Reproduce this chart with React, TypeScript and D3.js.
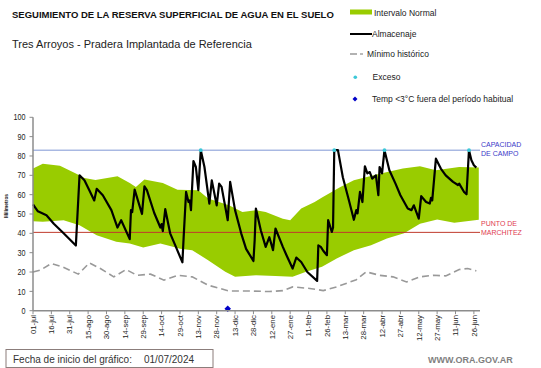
import * as d3 from "d3";

// eje x: un tick cada 15 días desde 01-jul-2024
const tickLabels = [
  "01-jul", "16-jul", "31-jul", "15-ago", "30-ago", "14-sep", "29-sep", "14-oct",
  "29-oct", "13-nov", "28-nov", "13-dic", "28-dic", "12-ene", "27-ene", "11-feb",
  "26-feb", "13-mar", "28-mar", "12-abr", "27-abr", "12-may", "27-may", "11-jun", "26-jun"
];
const yTicks = [0, 10, 20, 30, 40, 50, 60, 70, 80, 90, 100];

// [día desde el inicio, mm]
const normalUpper: [number, number][] = [
  [0, 73.5], [8, 76], [22, 75], [35, 70.9], [42, 68.6], [51, 67.6], [69, 69.5], [79, 66],
  [84, 64], [91, 67.8], [106, 66], [118, 62.6], [135, 62.3], [143, 58], [160, 54.5],
  [171, 51], [182, 52], [190, 51], [204, 47.6], [210, 46.8], [219, 52.8], [230, 56.2],
  [236, 58.5], [251, 64], [262, 67.4], [284, 71], [302, 73.5], [316, 74.7], [329, 72.6],
  [348, 74.3], [364, 74]
];
const normalLower: [number, number][] = [
  [0, 46.3], [8, 46], [25, 46.8], [38, 44.2], [52, 39], [68, 35.6], [79, 34.7], [90, 32.7],
  [104, 34.7], [115, 33], [120, 32], [130, 31.3], [143, 26.1], [157, 20.1], [165, 17.5],
  [182, 18.3], [198, 18], [212, 17.5], [223, 20.1], [236, 22.7], [248, 27], [262, 31.3],
  [276, 33.8], [289, 37.3], [303, 40], [316, 45], [330, 47.1], [344, 45.5], [364, 47]
];
const storage: [number, number][] = [
  [0, 55], [4, 51.4], [11, 49.4], [17, 45], [25, 40], [35, 33.7], [38, 70], [42, 67.4],
  [46, 62.3], [50, 57], [52, 63], [57, 59.7], [64, 52], [69, 43], [72, 46.8], [79, 37],
  [80, 52], [81, 51], [83, 62.6], [89, 50], [91, 64.3], [93, 62.3], [99, 50.5], [104, 43],
  [105, 44.8], [106, 41.2], [108, 52.5], [112, 40], [116, 34], [122, 25], [123, 37.8],
  [125, 61.4], [127, 56.2], [128, 57], [129, 52], [131, 77.4], [133, 74.3], [135, 62.3],
  [137, 83], [140, 74.3], [144, 55.4], [146, 67.4], [150, 54.5], [152, 65.7], [154, 64],
  [159, 46.8], [161, 66.6], [165, 52], [170, 40], [174, 32], [180, 25.7], [181, 36.4],
  [182, 52.8], [186, 41.6], [190, 33], [193, 38], [196, 31.3], [198, 42.5], [204, 33],
  [207, 28.7], [212, 21.8], [215, 27.5], [219, 25.2], [224, 20], [232, 15.4], [233, 33.8],
  [235, 33], [237, 31], [240, 28.7], [241, 46.8], [244, 40.7], [245, 43], [246, 83],
  [249, 83], [253, 69], [258, 57], [262, 47], [264, 52], [265, 50.3], [267, 61.4],
  [269, 56.2], [271, 74.7], [273, 71], [275, 71.7], [277, 68.3], [280, 70], [282, 59.7],
  [283, 74.3], [285, 71], [287, 83], [291, 72.6], [296, 65.7], [300, 59.7], [306, 52.8],
  [309, 52], [311, 54.5], [315, 47.6], [317, 59.2], [321, 56.2], [324, 55.4], [325, 58.4],
  [326, 57], [329, 78.6], [333, 73.5], [337, 70], [343, 66.6], [347, 65], [348, 65.7],
  [352, 61.4], [354, 60.2], [356, 83], [358, 77.8], [360, 75.2], [362, 74]
];
const historicMin: [number, number][] = [
  [0, 20], [6, 21], [15, 24.4], [24, 22.7], [37, 18.9], [46, 24.7], [55, 21.8], [66, 17.5],
  [76, 21.3], [85, 18.3], [96, 18.9], [107, 15.8], [118, 18.3], [130, 17.5], [143, 13.2],
  [160, 10.2], [176, 10.2], [193, 9.9], [204, 10.4], [212, 12.3], [226, 11.5], [237, 10.4],
  [248, 12.3], [259, 14.9], [264, 16], [272, 20.1], [283, 18.3], [294, 17.5], [305, 14.9],
  [316, 17.5], [327, 18.3], [337, 18], [348, 21.3], [355, 21.8], [362, 20.6]
];
const excess: [number, number][] = [[137, 83], [246, 83], [287, 83], [356, 83]];
const coldTemp: [number, number][] = [[159, 1]];
const fieldCapacity = 83;
const wiltingPoint = 40.5;

const FONT = "'Liberation Sans', Arial, Helvetica, sans-serif";

export default function App() {
  const x = d3.scaleLinear().domain([0, 365]).range([33, 480]);
  const y = d3.scaleLinear().domain([0, 100]).range([310.7, 117.3]);
  const line = d3.line<[number, number]>().x(d => x(d[0])).y(d => y(d[1]));
  const band = line([...normalUpper, ...normalLower.slice().reverse()]) + "Z";
  const axisColor = "#8c8c8c";

  return (
    <svg width={541} height={368} style={{ position: "absolute", left: 0, top: 0 }} fontFamily={FONT}>
      <rect width={541} height={368} fill="#fff" />

      {/* títulos */}
      <text x={12} y={17.5} fontSize={9.5} fontWeight="bold" fill="#111">
        SEGUIMIENTO DE LA RESERVA  SUPERFICIAL DE AGUA EN EL SUELO
      </text>
      <text x={12} y={48} fontSize={11} fill="#222">
        Tres Arroyos - Pradera Implantada  de Referencia
      </text>

      {/* leyenda */}
      <g fontSize={8.5} fill="#222">
        <rect x={350} y={9.5} width={22} height={5} fill="#99cc00" />
        <text x={374} y={15.5}>Intervalo Normal</text>
        <line x1={350} x2={372} y1={34} y2={34} stroke="#000" strokeWidth={2} />
        <text x={372} y={37}>Almacenaje</text>
        <line x1={350} x2={357} y1={54} y2={54} stroke="#999" strokeWidth={1.5} />
        <line x1={360} x2={363} y1={54} y2={54} stroke="#777" strokeWidth={1} />
        <text x={367} y={57}>Mínimo histórico</text>
        <circle cx={355.3} cy={77.3} r={1.8} fill="#3cc8d8" />
        <text x={372.5} y={80}>Exceso</text>
        <path d="M355,96.5 L357.5,99 L355,101.5 L352.5,99 Z" fill="#0000c8" />
        <text x={372} y={102}>Temp &lt;3°C fuera del período habitual</text>
      </g>

      {/* intervalo normal */}
      <path d={band} fill="#99cc00" />

      {/* mínimo histórico */}
      <path d={line(historicMin) ?? ""} fill="none" stroke="#999" strokeWidth={1.6} strokeDasharray="7,4" />

      {/* capacidad de campo y punto de marchitez */}
      <line x1={x(0)} x2={x(365)} y1={y(fieldCapacity)} y2={y(fieldCapacity)} stroke="#7f96d4" strokeWidth={1} />
      <line x1={x(0)} x2={x(365)} y1={y(wiltingPoint)} y2={y(wiltingPoint)} stroke="#c0392b" strokeWidth={1} />

      {/* almacenaje */}
      <path d={line(storage) ?? ""} fill="none" stroke="#000" strokeWidth={2.2} strokeLinejoin="round" />

      {excess.map((d, i) => (
        <circle key={i} cx={x(d[0])} cy={y(d[1])} r={1.9} fill="#3cc8d8" />
      ))}
      {coldTemp.map((d, i) => (
        <path key={i} transform={`translate(${x(d[0])},${y(d[1])})`} d="M0,-3.3 L3.3,0 L0,3.3 L-3.3,0 Z" fill="#0000c8" />
      ))}

      {/* etiquetas derecha */}
      <g fontSize={7} fill="#3a3ac8">
        <text x={481} y={146.7}>CAPACIDAD</text>
        <text x={481} y={156}>DE  CAMPO</text>
      </g>
      <g fontSize={7} fill="#e03c50">
        <text x={481} y={225.5}>PUNTO  DE</text>
        <text x={481} y={234.5}>MARCHITEZ</text>
      </g>

      {/* eje y */}
      <line x1={33} x2={33} y1={y(100)} y2={y(0)} stroke={axisColor} strokeWidth={1.5} />
      {yTicks.map(t => (
        <g key={t} transform={`translate(0,${y(t)})`}>
          <line x1={29.5} x2={33} stroke={axisColor} strokeWidth={1} />
          <text transform="translate(25.5,0) scale(0.8,1)" dy="0.35em" textAnchor="end" fontSize={9} fill="#222">{t}</text>
        </g>
      ))}
      <text transform="translate(8,206) rotate(-90)" textAnchor="middle" fontSize={4.8} fontWeight="bold" fill="#222">Milímetros</text>

      {/* eje x */}
      <line x1={33} x2={x(365)} y1={y(0)} y2={y(0)} stroke={axisColor} strokeWidth={1.5} />
      {tickLabels.map((lab, i) => {
        const px = x(i * 15);
        return (
          <g key={lab}>
            <line x1={px} x2={px} y1={y(0)} y2={y(0) + 3.5} stroke={axisColor} strokeWidth={1} />
            <text transform={`translate(${px},315) rotate(-90)`} dy="0.35em" textAnchor="end" fontSize={7.8} fill="#222">{lab}</text>
          </g>
        );
      })}

      {/* pie */}
      <rect x={6} y={349.5} width={207} height={18} fill="#fff" stroke="#8b7d7b" strokeWidth={1} />
      <text x={13} y={362.5} fontSize={10} fill="#333">Fecha de inicio del gráfico:</text>
      <text x={144} y={362.5} fontSize={10} fill="#333">01/07/2024</text>
      <text x={428} y={363} fontSize={9} fontWeight="bold" fill="#7f7f7f">WWW.ORA.GOV.AR</text>
    </svg>
  );
}
